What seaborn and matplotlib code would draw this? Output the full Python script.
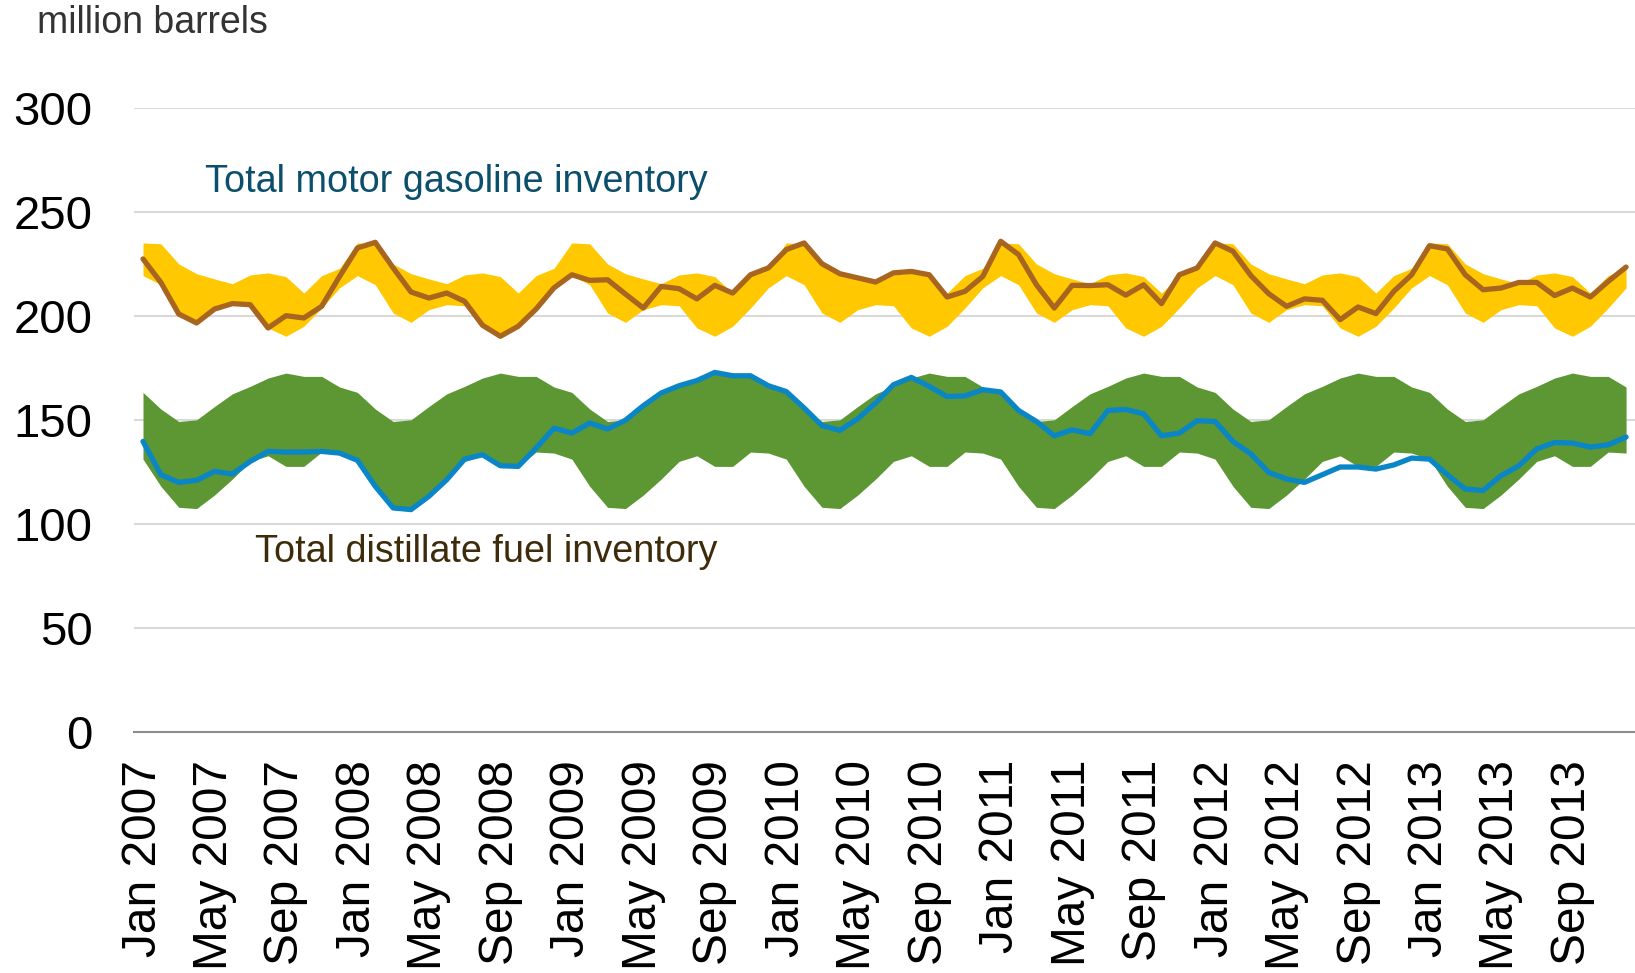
import numpy as np
import pandas as pd
import seaborn as sns
import matplotlib.pyplot as plt

# Five-year range by calendar month (same band every year), million barrels
gas_hi = [235.3, 234.9, 225.2, 220.5, 218.0, 215.7, 219.9, 220.9, 219.1, 211.2, 219.6, 223.1]
gas_lo = [219.6, 215.2, 201.6, 197.1, 203.2, 205.6, 205.1, 194.4, 190.4, 195.2, 204.0, 213.7]
dist_hi = [163.4, 155.4, 149.4, 150.2, 156.6, 162.7, 166.3, 170.3, 172.7, 171.1, 171.1, 166.0]
dist_lo = [131.3, 118.2, 108.1, 107.5, 114.0, 121.7, 130.2, 132.9, 127.8, 127.8, 134.7, 134.2]

# Monthly inventories Jan 2007 - Dec 2013
gasoline = [
    227.6, 216.3, 201.1, 196.8, 203.5, 206.1, 205.6, 194.4, 200.3, 199.2, 204.8, 219.2,
    232.9, 235.6, 223.3, 211.7, 208.8, 211.2, 207.2, 195.7, 190.4, 195.2, 203.5, 213.7,
    220.0, 217.3, 217.6, 210.7, 204.0, 214.4, 213.3, 208.4, 214.9, 211.2, 220.0, 223.3,
    232.1, 235.3, 225.3, 220.5, 218.5, 216.5, 220.9, 221.6, 220.0, 209.3, 212.0, 219.2,
    236.1, 229.7, 215.2, 204.0, 214.9, 214.8, 215.2, 210.2, 215.2, 206.1, 220.0, 223.3,
    235.3, 231.3, 219.6, 210.9, 204.8, 208.4, 207.7, 198.4, 204.5, 201.3, 212.0, 220.0,
    234.0, 232.4, 220.0, 212.8, 213.6, 216.3, 216.3, 210.0, 213.6, 209.3, 216.8, 223.7,
]
distillate = [
    139.8, 123.8, 120.1, 121.1, 125.4, 124.1, 130.2, 135.0, 134.7, 134.7, 135.0, 134.2,
    130.7, 118.2, 107.8, 107.0, 113.4, 121.4, 131.3, 133.4, 128.1, 127.8, 136.6, 146.2,
    143.8, 148.7, 145.8, 150.0, 157.0, 163.1, 166.6, 169.1, 173.0, 171.4, 171.4, 166.6,
    163.8, 155.9, 147.4, 145.1, 150.7, 158.3, 167.1, 170.6, 166.3, 161.4, 161.7, 164.7,
    163.6, 154.7, 149.4, 142.5, 145.4, 143.5, 154.7, 155.2, 153.1, 142.5, 143.8, 149.8,
    149.4, 139.8, 133.8, 124.9, 121.7, 120.1, 123.8, 127.5, 127.5, 126.5, 128.5, 131.8,
    131.3, 123.8, 116.9, 116.2, 123.3, 128.1, 136.2, 139.3, 139.0, 137.1, 138.2, 141.9,
]
years = list(range(2007, 2014))
month_names = ['Jan', 'Feb', 'Mar', 'Apr', 'May', 'Jun', 'Jul', 'Aug', 'Sep', 'Oct', 'Nov', 'Dec']

labels = [f'{m} {y}' for y in years for m in month_names]
n = len(labels)
x = np.arange(n)

df = pd.DataFrame({
    'idx': x,
    'gasoline': gasoline,
    'distillate': distillate,
    'gas_hi': gas_hi * len(years),
    'gas_lo': gas_lo * len(years),
    'dist_hi': dist_hi * len(years),
    'dist_lo': dist_lo * len(years),
})

sns.set_style('white')
plt.rcParams['font.family'] = ['Liberation Sans', 'DejaVu Sans']

fig = plt.figure(figsize=(16.35, 9.73), dpi=100)
ax = fig.add_axes([0.082, 0.2477, 0.918, 0.6408])

# ranges
ax.fill_between(df['idx'], df['gas_lo'], df['gas_hi'], color='#FFC800', linewidth=0, zorder=2)
ax.fill_between(df['idx'], df['dist_lo'], df['dist_hi'], color='#5C9733', linewidth=0, zorder=2)

# inventories
sns.lineplot(data=df, x='idx', y='gasoline', ax=ax, color='#A8651F', linewidth=3.8, zorder=3)
sns.lineplot(data=df, x='idx', y='distillate', ax=ax, color='#0A85C5', linewidth=3.8, zorder=3)

ax.set_xlim(-0.5, n - 0.5)
ax.set_ylim(0, 300)
ax.set_yticks(range(0, 301, 50))
ax.yaxis.grid(True, color='#D9D9D9', linewidth=1.5, zorder=0)
ax.set_axisbelow(True)
ax.tick_params(axis='y', length=0, pad=30, labelsize=34, labelcolor='black')

# labels centred on months, tick marks on month boundaries
ax.set_xticks(x[::4])
ax.set_xticklabels(labels[::4], rotation=90, fontsize=34.5, color='black')
ax.tick_params(axis='x', which='major', length=0, pad=20)
ax.set_xticks(np.arange(-0.5, n, 4), minor=True)
ax.tick_params(axis='x', which='minor', length=10, width=1.5, color='#8C8C8C')

for s in ['top', 'right', 'left']:
    ax.spines[s].set_visible(False)
ax.spines['bottom'].set_color('#8C8C8C')
ax.spines['bottom'].set_linewidth(1.5)
ax.set_xlabel('')
ax.set_ylabel('')

fig.text(37 / 1635, 1 - 23 / 973, 'million barrels', fontsize=27, color='#333333', va='center', ha='left')
fig.text(205 / 1635, 1 - 182 / 973, 'Total motor gasoline inventory', fontsize=27.2,
         color='#0B4F6C', va='center', ha='left')
fig.text(255 / 1635, 1 - 552 / 973, 'Total distillate fuel inventory', fontsize=27.2,
         color='#3D2B0A', va='center', ha='left')

fig.savefig('out.png', dpi=100)
